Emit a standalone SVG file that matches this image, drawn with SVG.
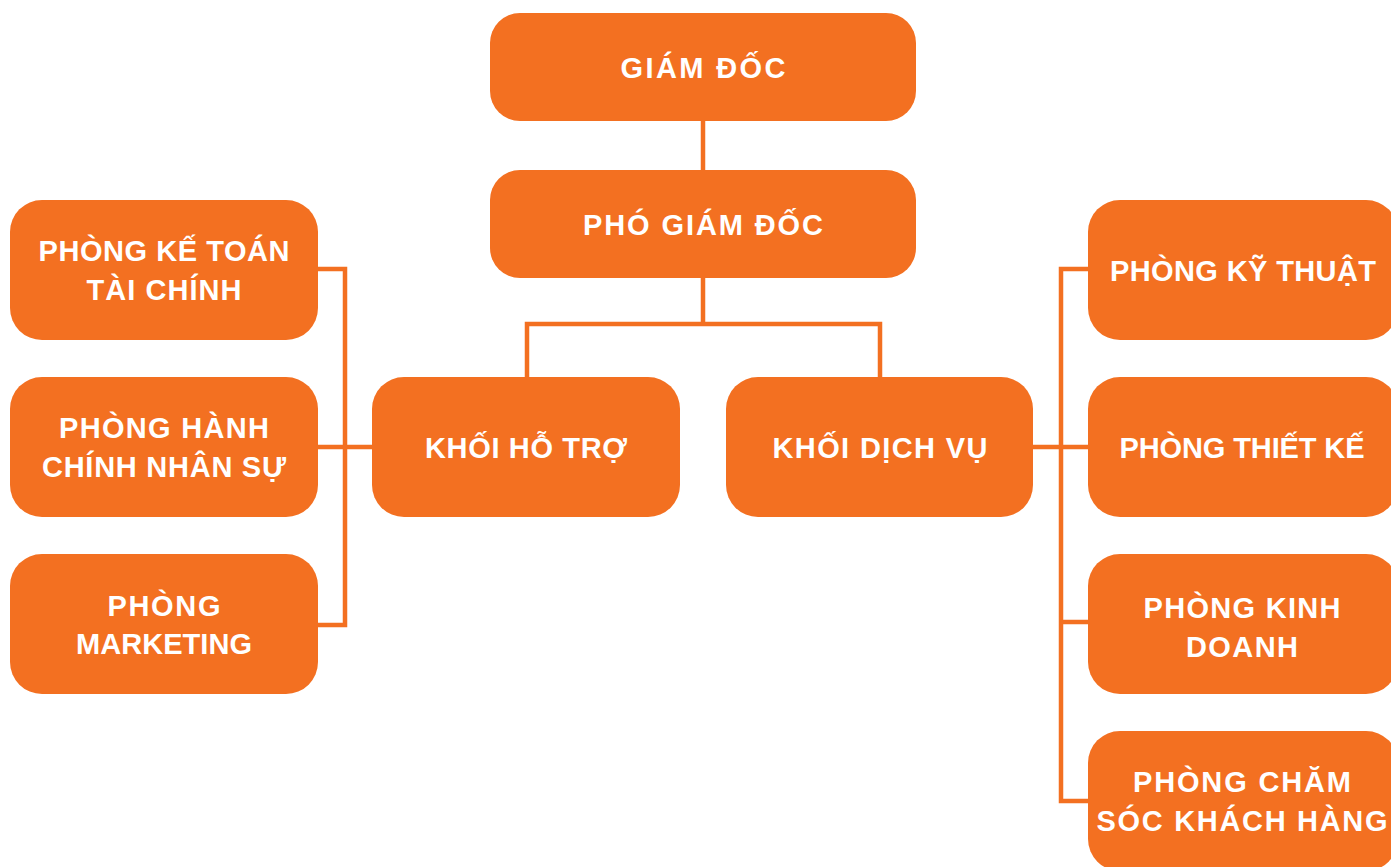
<svg xmlns="http://www.w3.org/2000/svg" width="1391" height="867" viewBox="0 0 1391 867">
<style>
.box{fill:#F37021}
.t{font-family:"Liberation Sans",Arial,sans-serif;font-weight:bold;font-size:29px;fill:#fff;text-anchor:middle}
.c{fill:none;stroke:#F37021;stroke-width:4.5}
</style>
<rect width="1391" height="867" fill="#fff"/>
<g id="connectors">
<path class="c" d="M703,121 V170"/>
<path class="c" d="M703,278 V324 M527,377 V324 H880 V377"/>
<path class="c" d="M318,269 H345 V625 H318 M318,447 H372"/>
<path class="c" d="M1088,269 H1061 V801 H1088 M1033,447 H1088 M1061,622 H1088"/>
</g>
<g id="giam-doc"><rect class="box" x="490" y="13" width="426" height="108" rx="30"/><text class="t" x="703" y="78" textLength="165" lengthAdjust="spacing">GIÁM ĐỐC</text></g>
<g id="pho-giam-doc"><rect class="box" x="490" y="170" width="426" height="108" rx="30"/><text class="t" x="703" y="235" textLength="240" lengthAdjust="spacing">PHÓ GIÁM ĐỐC</text></g>
<g id="khoi-ho-tro"><rect class="box" x="372" y="377" width="308" height="140" rx="32"/><text class="t" x="526" y="458" textLength="202" lengthAdjust="spacing">KHỐI HỖ TRỢ</text></g>
<g id="khoi-dich-vu"><rect class="box" x="726" y="377" width="307" height="140" rx="32"/><text class="t" x="880" y="458" textLength="215" lengthAdjust="spacing">KHỐI DỊCH VỤ</text></g>
<g id="ke-toan"><rect class="box" x="10" y="200" width="308" height="140" rx="32"/><text class="t" x="164" y="261" textLength="251" lengthAdjust="spacing">PHÒNG KẾ TOÁN</text><text class="t" x="164" y="300" textLength="155" lengthAdjust="spacing">TÀI CHÍNH</text></g>
<g id="hanh-chinh"><rect class="box" x="10" y="377" width="308" height="140" rx="32"/><text class="t" x="164" y="438" textLength="210" lengthAdjust="spacing">PHÒNG HÀNH</text><text class="t" x="164" y="477" textLength="244" lengthAdjust="spacing">CHÍNH NHÂN SỰ</text></g>
<g id="marketing"><rect class="box" x="10" y="554" width="308" height="140" rx="32"/><text class="t" x="164" y="616" textLength="113" lengthAdjust="spacing">PHÒNG</text><text class="t" x="164" y="654" textLength="176" lengthAdjust="spacing">MARKETING</text></g>
<g id="ky-thuat"><rect class="box" x="1088" y="200" width="310" height="140" rx="32"/><text class="t" x="1243" y="281" textLength="266" lengthAdjust="spacing">PHÒNG KỸ THUẬT</text></g>
<g id="thiet-ke"><rect class="box" x="1088" y="377" width="310" height="140" rx="32"/><text class="t" x="1242" y="458" textLength="245" lengthAdjust="spacing">PHÒNG THIẾT KẾ</text></g>
<g id="kinh-doanh"><rect class="box" x="1088" y="554" width="310" height="140" rx="32"/><text class="t" x="1242" y="618" textLength="197" lengthAdjust="spacing">PHÒNG KINH</text><text class="t" x="1242" y="657" textLength="112" lengthAdjust="spacing">DOANH</text></g>
<g id="cham-soc"><rect class="box" x="1088" y="731" width="310" height="140" rx="32"/><text class="t" x="1242" y="792" textLength="218" lengthAdjust="spacing">PHÒNG CHĂM</text><text class="t" x="1242" y="831" textLength="291" lengthAdjust="spacing">SÓC KHÁCH HÀNG</text></g>
</svg>
